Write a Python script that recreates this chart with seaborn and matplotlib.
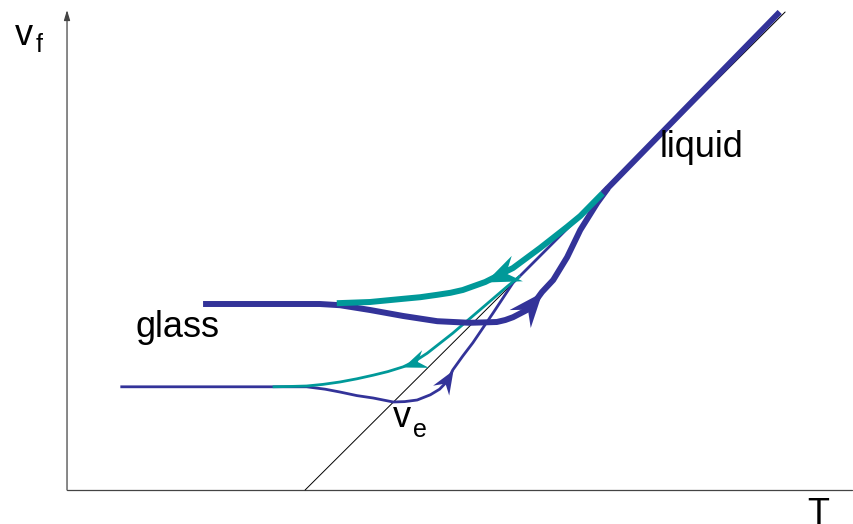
import matplotlib
matplotlib.use("Agg")
import numpy as np
import matplotlib.pyplot as plt
from matplotlib.path import Path
from matplotlib.markers import MarkerStyle
from matplotlib.transforms import Affine2D
import seaborn as sns

# schematic v_f(T) for a glass former: two cooling/heating rates

# equilibrium (extrapolated) line  v_e
line_T = [3.08, 9.29]
line_v = [0.0, 5.975]

# liquid branch
liquid_T = [6.93, 9.22]
liquid_v = [3.71, 5.975]
liquid_fast_T = [5.86, 6.93]
liquid_fast_v = [2.675, 3.71]

# slow cooling (thick teal)
cool_slow_T = [6.93, 6.64, 6.47, 6.12, 5.77, 5.41, 5.12, 4.96, 4.79, 4.57, 4.35, 3.92, 3.49]
cool_slow_v = [3.71, 3.425, 3.29, 3.025, 2.775, 2.60, 2.50, 2.465, 2.44, 2.41, 2.39, 2.35, 2.335]

# slow heating (thick blue)
heat_slow_T = [1.76, 3.27, 3.53, 3.92, 4.35, 4.79, 5.21, 5.56, 5.67, 5.77, 5.95,
               6.05, 6.145, 6.29, 6.47, 6.64, 6.86, 7.0]
heat_slow_v = [2.325, 2.325, 2.31, 2.25, 2.175, 2.11, 2.09, 2.10, 2.125, 2.16, 2.25,
               2.35, 2.475, 2.625, 2.91, 3.25, 3.59, 3.775]

# fast cooling (thin teal)
cool_fast_T = [5.86, 5.69, 5.34, 4.99, 4.66, 4.50, 4.35, 4.15, 3.96, 3.75, 3.53,
               3.31, 3.10, 2.88, 2.66]
cool_fast_v = [2.675, 2.54, 2.25, 1.96, 1.71, 1.61, 1.54, 1.48, 1.435, 1.39, 1.35,
               1.32, 1.30, 1.294, 1.29]

# fast heating (thin blue)
heat_fast_T = [0.69, 3.10, 3.34, 3.53, 3.75, 3.96, 4.22, 4.37, 4.53, 4.70, 4.82,
               4.92, 4.99, 5.12, 5.25, 5.51, 5.77, 5.86]
heat_fast_v = [1.29, 1.29, 1.26, 1.225, 1.18, 1.15, 1.10, 1.105, 1.125, 1.19, 1.26,
               1.36, 1.50, 1.675, 1.84, 2.21, 2.59, 2.675]

BLUE = "#333399"
TEAL = "#009999"

sns.set_theme(style="white")
plt.rcParams["font.family"] = ["Liberation Sans", "DejaVu Sans"]

fig = plt.figure(figsize=(8.54, 5.24), dpi=100)
ax = fig.add_axes([0, 0, 1, 1])
ax.set_xlim(-0.867, 10.181)
ax.set_ylim(-0.425, 6.125)
ax.axis("off")

# axes, small arrow on the v axis
ax.annotate("", xy=(0, 6.0), xytext=(0, 0),
            arrowprops=dict(arrowstyle="-|>,head_length=0.5,head_width=0.15",
                            color="#444444", lw=0.9, shrinkA=0, shrinkB=0))
ax.plot([0, 10.15], [0, 0], color="#444444", lw=0.9)

ax.plot(line_T, line_v, color="black", lw=0.7)

def curve(T, v, color, lw):
    sns.lineplot(x=T, y=v, sort=False, estimator=None, color=color, lw=lw,
                 ax=ax, solid_capstyle="butt", solid_joinstyle="round")

curve(heat_fast_T, heat_fast_v, BLUE, 2.0)
curve(liquid_fast_T, liquid_fast_v, BLUE, 2.0)
curve(cool_fast_T, cool_fast_v, TEAL, 2.0)
curve(heat_slow_T, heat_slow_v, BLUE, 4.3)
curve(cool_slow_T, cool_slow_v, TEAL, 4.3)
curve(liquid_T, liquid_v, BLUE, 4.3)

# barbed arrow head, tip at origin pointing +x
head = Path([(0, 0), (-2, 0.8), (-1.3, 0), (-2, -0.8), (0, 0)],
            [Path.MOVETO, Path.LINETO, Path.LINETO, Path.LINETO, Path.CLOSEPOLY])

fig.canvas.draw()

def arrow(T, v, k, color, size):
    p0 = ax.transData.transform((T[k - 1], v[k - 1]))
    p1 = ax.transData.transform((T[k + 1], v[k + 1]))
    ang = np.degrees(np.arctan2(p1[1] - p0[1], p1[0] - p0[0]))
    m = MarkerStyle(head, transform=Affine2D().rotate_deg(ang))
    ax.plot(T[k], v[k], marker=m, markersize=size, color=color, lw=0,
            markeredgewidth=0)

arrow(cool_slow_T, cool_slow_v, 5, TEAL, 50)
arrow(heat_slow_T, heat_slow_v, 12, BLUE, 50)
arrow(cool_fast_T, cool_fast_v, 6, TEAL, 34)
arrow(heat_fast_T, heat_fast_v, 12, BLUE, 34)

fs = 26
sub = 18
ax.text(7.67, 4.16, "liquid", fontsize=fs, color="black", va="baseline")
ax.text(0.88, 1.91, "glass", fontsize=fs, color="black", va="baseline")
ax.text(9.57, -0.09, "T", fontsize=fs, color="black", va="top")
ax.text(-0.67, 5.56, "v", fontsize=fs, color="black", va="baseline")
ax.text(-0.40, 5.47, "f", fontsize=sub, color="black", va="baseline")
ax.text(4.22, 0.79, "v", fontsize=fs, color="black", va="baseline")
ax.text(4.48, 0.66, "e", fontsize=sub, color="black", va="baseline")

fig.savefig("out.png", dpi=100, facecolor="white")
